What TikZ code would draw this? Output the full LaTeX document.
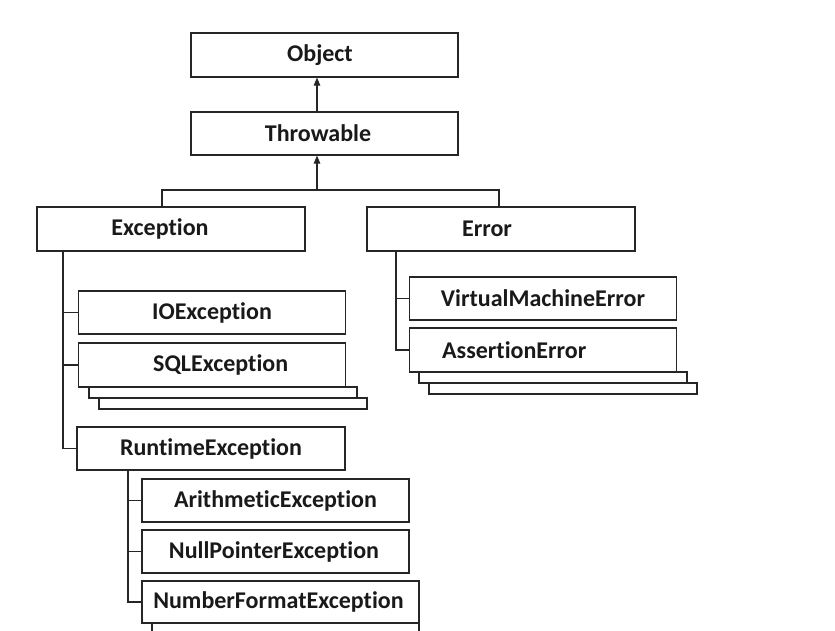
\documentclass[tikz,border=0pt]{standalone}
\usepackage{fontspec}
\setmainfont{Carlito}[Ligatures={NoCommon}]
\usetikzlibrary{arrows.meta}
\begin{document}
\begin{tikzpicture}[x=1pt,y=-1pt,
  ln/.style={line width=1.1pt, draw=black!85},
  box/.style={ln, fill=white, rectangle, minimum width=267pt, minimum height=44pt, inner sep=0pt},
  shadowbox/.style={ln, fill=white},
  every label/.style={font=\fontsize{24}{28}\selectfont\bfseries, text=black!90, inner sep=0pt},
  arr/.style={ln, -{Triangle[length=8pt,width=6.5pt]}}]
\useasboundingbox (0,0) rectangle (835,630);

% top
\node[box, label={[xshift=-4.5pt]center:Object}] (obj) at (324.5,55) {};
\node[box, minimum height=43pt, label={[xshift=-6.5pt]center:Throwable}] (thr) at (324.5,133.5) {};
\coordinate (hub) at (317,190);
\coordinate (jL) at (162,190);
\coordinate (jR) at (499,190);

\node[box, minimum width=268pt, label={[xshift=-11pt]center:Exception}] (exc) at (171,229) {};
\node[box, minimum width=268pt, label={[xshift=-14pt]center:Error}] (err) at (501,229) {};

\draw[arr] (hub |- thr.north) -- (hub |- obj.south);
\draw[arr] (hub) -- (hub |- thr.south);
\draw[ln] (jL |- exc.north) -- (jL) -- (jR) -- (jR |- err.north);

% Exception branch
\draw[shadowbox] (99,398) rectangle (367,409);
\draw[shadowbox] (89,387) rectangle (357,398);
\node[box, minimum height=43pt, label={[xshift=0pt]center:IOException}] (ioe) at (212,312.5) {};
\node[box, label={[anchor=west]west:\hspace*{75pt}SQLException}] (sql) at (212,365) {};
\node[box, minimum width=268pt, minimum height=43pt, label={center:RuntimeException}] (rte) at (211,448.5) {};
\coordinate (tE) at (63,251);
\draw[ln] (tE |- exc.south) |- (rte.west);
\draw[ln] (tE |- ioe.west) -- (ioe.west);
\draw[ln] (tE |- sql.west) -- (sql.west);

% Error branch
\draw[shadowbox] (429,383) rectangle (697,394);
\draw[shadowbox] (419,372) rectangle (687,383);
\node[box, minimum height=43pt, label={center:VirtualMachineError}] (vme) at (543,298.5) {};
\node[box, label={[anchor=west]west:\hspace*{33pt}AssertionError}] (ase) at (543,350) {};
\coordinate (tR) at (396,251);
\draw[ln] (tR |- err.south) |- (ase.west);
\draw[ln] (tR |- vme.west) -- (vme.west);

% Runtime branch
\draw[shadowbox] (152,623) rectangle (419,640);
\node[box, minimum height=43pt, label={center:ArithmeticException}] (ari) at (275.5,500.5) {};
\node[box, minimum height=43pt, label={[xshift=-1.5pt]center:NullPointerException}] (npe) at (275.5,551.5) {};
\node[box, minimum width=277pt, minimum height=42pt, label={[xshift=-2pt]center:NumberFormatException}] (nfe) at (280.5,602) {};
\coordinate (tT) at (128,470);
\draw[ln] (tT |- rte.south) |- (nfe.west);
\draw[ln] (tT |- ari.west) -- (ari.west);
\draw[ln] (tT |- npe.west) -- (npe.west);
\end{tikzpicture}
\end{document}
